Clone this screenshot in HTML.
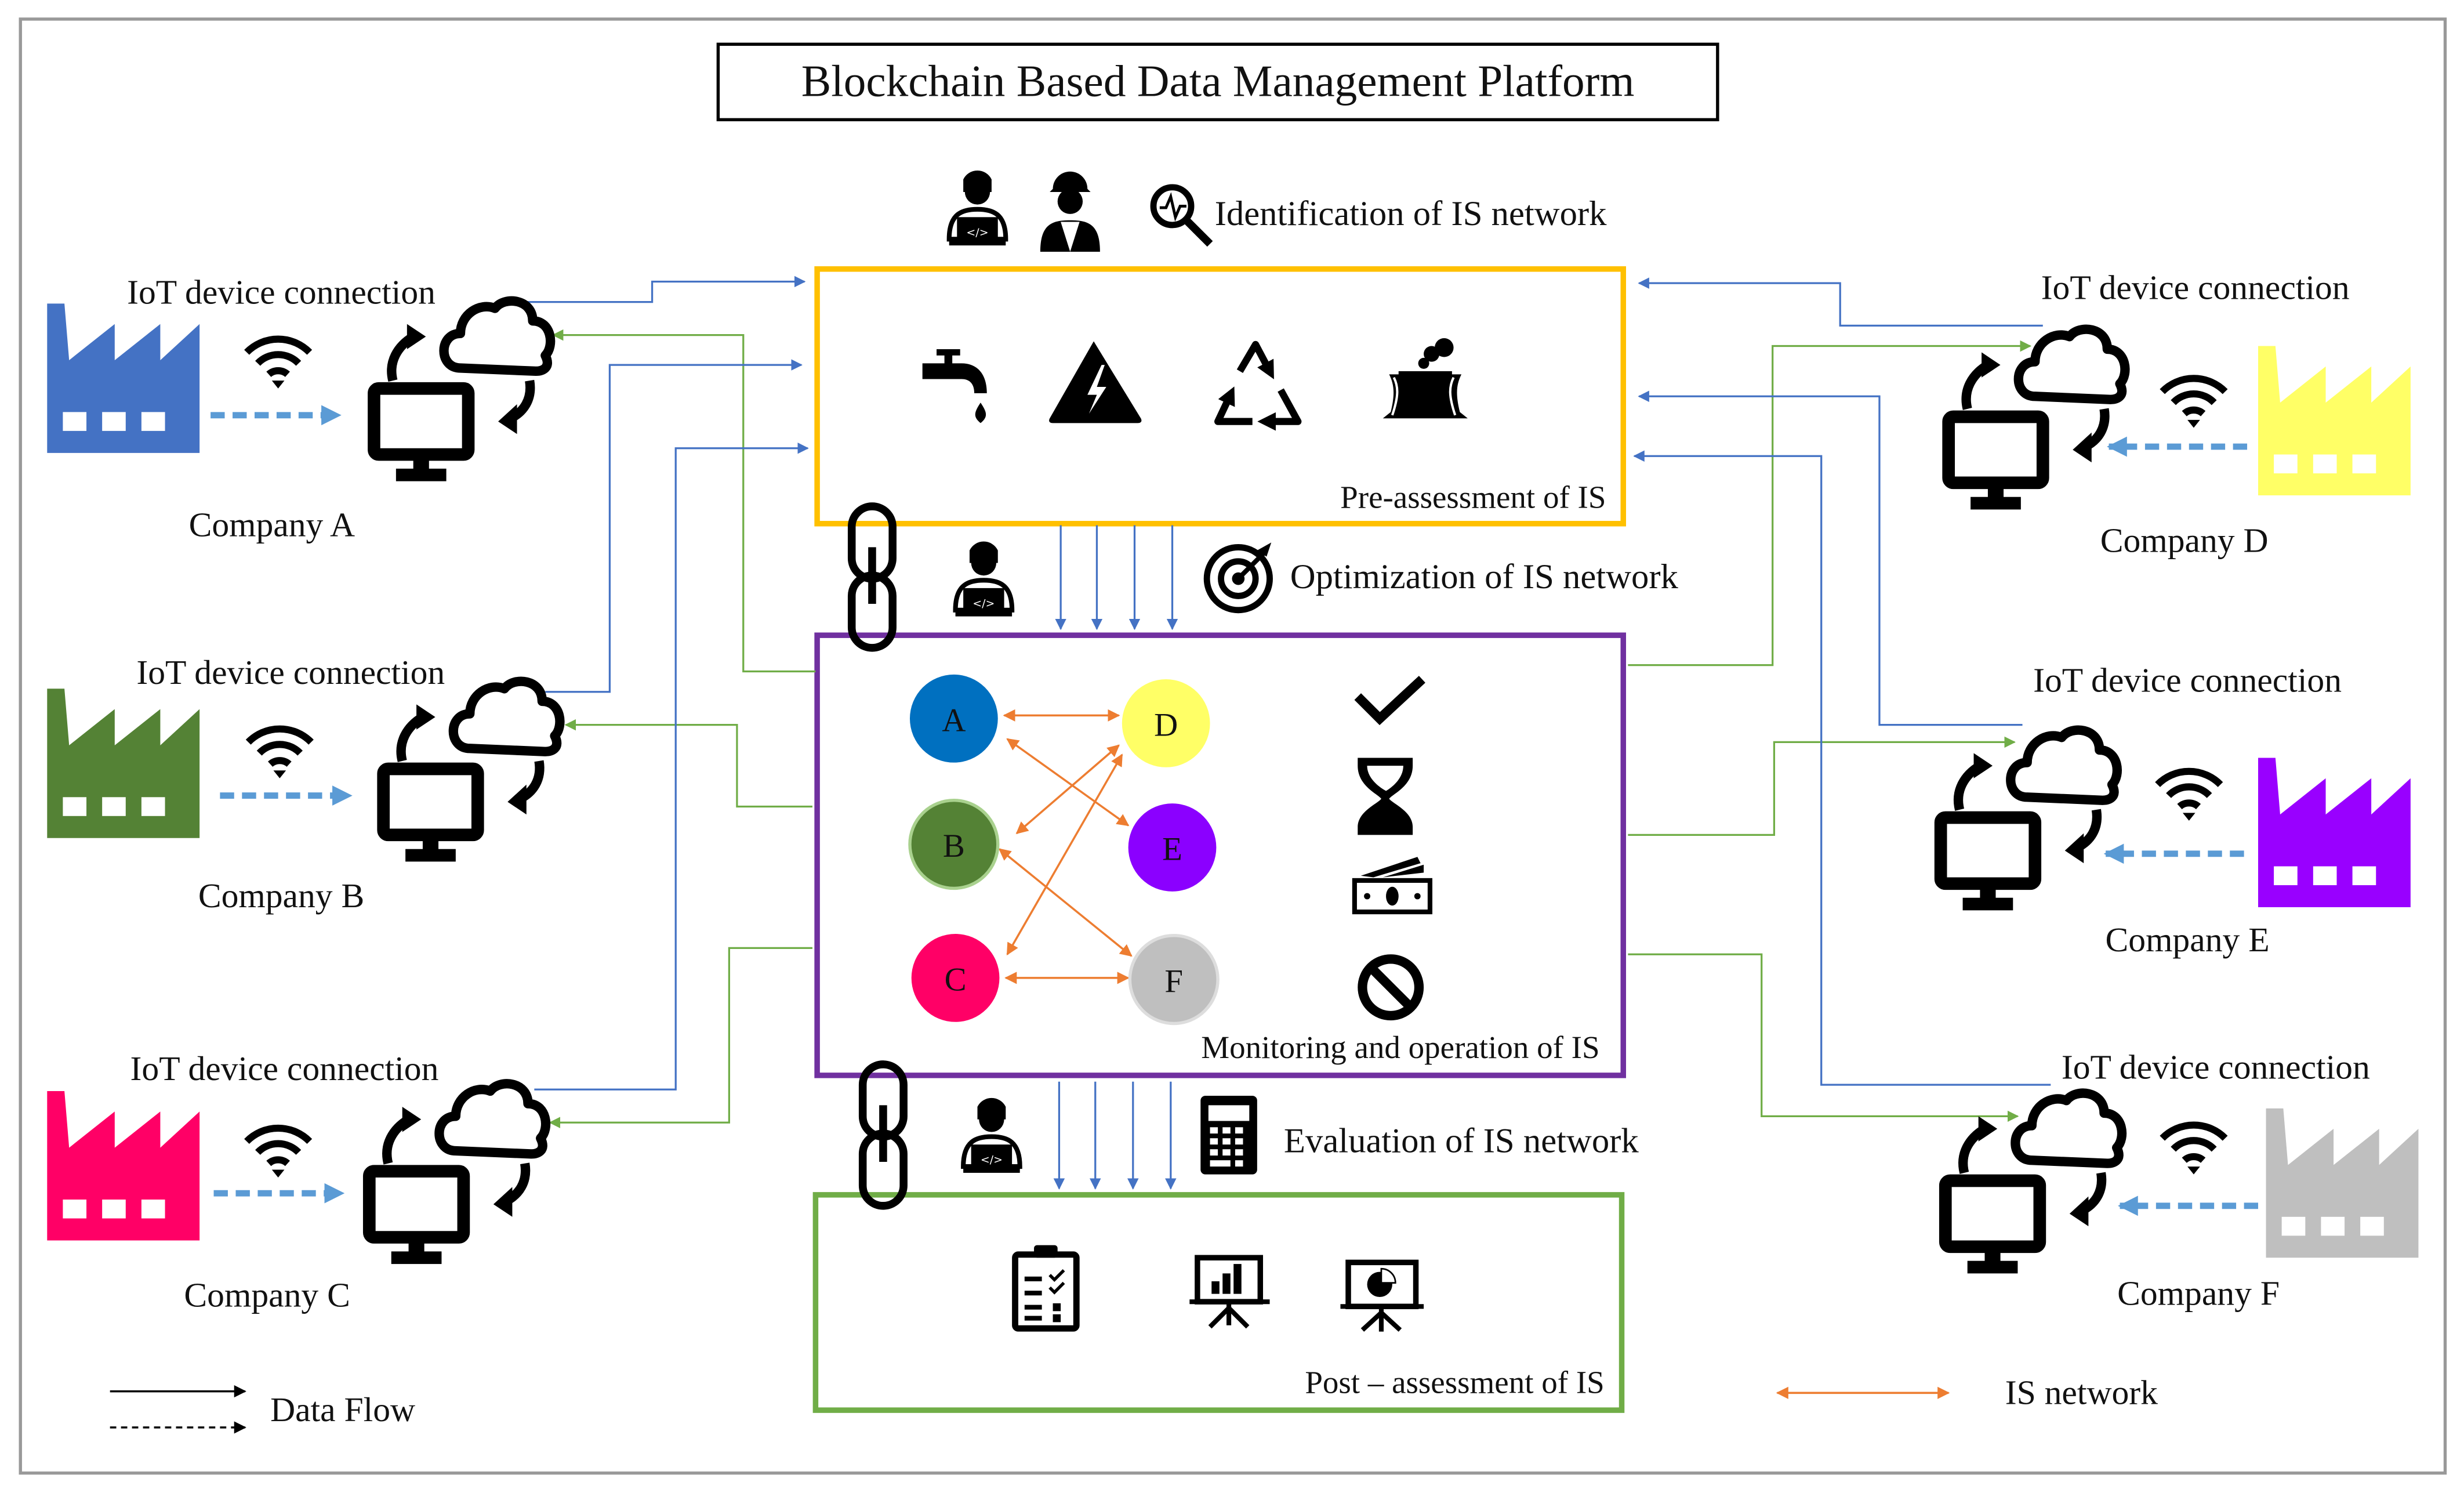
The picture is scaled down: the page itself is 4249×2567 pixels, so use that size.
<!DOCTYPE html>
<html><head><meta charset="utf-8"><style>html,body{margin:0;padding:0;background:#fff}svg{display:block}text{font-family:"Liberation Serif",serif;fill:#111}</style></head><body>
<svg width="4249" height="2567" viewBox="0 0 1568 947" xmlns="http://www.w3.org/2000/svg">
<defs>
<marker id="ab" viewBox="0 0 10 10" refX="9" refY="5" markerWidth="6" markerHeight="6" orient="auto-start-reverse"><path d="M0,0L10,5L0,10z" fill="#4472C4"/></marker>
<marker id="ag" viewBox="0 0 10 10" refX="9" refY="5" markerWidth="6" markerHeight="6" orient="auto-start-reverse"><path d="M0,0L10,5L0,10z" fill="#70AD47"/></marker>
<marker id="ao" viewBox="0 0 10 10" refX="9" refY="5" markerWidth="6" markerHeight="6" orient="auto-start-reverse"><path d="M0,0L10,5L0,10z" fill="#ED7D31"/></marker>
<marker id="ak" viewBox="0 0 10 10" refX="9" refY="5" markerWidth="6" markerHeight="6" orient="auto-start-reverse"><path d="M0,0L10,5L0,10z" fill="#000"/></marker>
<marker id="ar" viewBox="0 0 10 10" refX="5" refY="5" markerWidth="2.6" markerHeight="2.6" orient="auto"><path d="M0,0L10,5L0,10z" fill="#000"/></marker>
<marker id="ad" viewBox="0 0 10 10" refX="9" refY="5" markerWidth="3.2" markerHeight="3.2" orient="auto"><path d="M0,0L10,5L0,10z" fill="#5B9BD5"/></marker>
<g id="pc">
<path d="M58,44 C44,44 44,22 58,22 C58,10 70,2 80,6 C86,-2 104,0 104,14 C116,14 118,30 112,36 C116,44 110,46 106,46 Z" fill="#fff" stroke="#000" stroke-width="6" stroke-linejoin="round"/>
<rect x="3" y="57" width="60" height="42" rx="3" fill="#fff" stroke="#000" stroke-width="8"/>
<rect x="28" y="100" width="10" height="9" fill="#000"/><rect x="17" y="108" width="32" height="8" fill="#000"/>
<path d="M15,52 C12,40 18,30 28,24" fill="none" stroke="#000" stroke-width="6"/><path d="M24,16 L36,24 L24,32z" fill="#000"/>
<path d="M102,52 C104,64 98,72 90,76" fill="none" stroke="#000" stroke-width="6"/><path d="M94,67 L82,78 L94,86z" fill="#000"/>
</g>
<g id="fac"><path d="M0,95 L0,0 L11,0 L14,36 L43,13 L43,36 L72,13 L72,36 L97,13 L97,95 Z"/><rect x="10" y="69" width="15" height="12" fill="#fff"/><rect x="35" y="69" width="15" height="12" fill="#fff"/><rect x="60" y="69" width="15" height="12" fill="#fff"/></g>
<g id="wifi" fill="none" stroke="#000" stroke-width="4.5"><path d="M-20,-6 A28,28 0 0 1 20,-6"/><path d="M-13,1 A18,18 0 0 1 13,1"/><path d="M-6,8 A9,9 0 0 1 6,8"/><path d="M-4,12 L0,17 L4,12z" fill="#000" stroke="none"/></g>
<g id="dev"><circle cx="0" cy="-14" r="8" fill="#000"/><path d="M-9,-22 A10,10 0 0 1 9,-22 L9,-14 L-9,-14z" fill="#000"/><path d="M-18,16 C-18,0 -10,-3 0,-3 C10,-3 18,0 18,16z" fill="#fff" stroke="#000" stroke-width="3"/><rect x="-13" y="2" width="26" height="16" fill="#000"/><rect x="-18" y="17" width="36" height="3" fill="#000"/><text x="0" y="14" font-size="7" text-anchor="middle" style="fill:#fff;font-family:'DejaVu Sans'">&lt;/&gt;</text></g>
<g id="chain" fill="none" stroke="#000" stroke-width="5"><rect x="-13" y="0" width="26" height="46" rx="13"/><rect x="-13" y="44" width="26" height="46" rx="13"/><line x1="0" y1="26" x2="0" y2="62"/></g>
</defs>
<rect x="0" y="0" width="1568" height="947" fill="#fff"/>
<rect x="13" y="12" width="1543" height="925" fill="none" stroke="#999" stroke-width="2"/>
<rect x="457" y="28" width="636" height="48" fill="none" stroke="#000" stroke-width="2"/>
<text x="775" y="61" font-size="28.5" text-anchor="middle">Blockchain Based Data Management Platform</text>

<rect x="520" y="171" width="513" height="162" fill="none" stroke="#FFC000" stroke-width="3.5"/>
<rect x="520" y="404" width="513" height="280" fill="none" stroke="#7030A0" stroke-width="3.5"/>
<rect x="519" y="760" width="513" height="137" fill="none" stroke="#70AD47" stroke-width="3.5"/>
<text x="1022" y="323" font-size="20.3" text-anchor="end">Pre-assessment of IS</text>
<text x="1018" y="673" font-size="20.3" text-anchor="end">Monitoring and operation of IS</text>
<text x="1021" y="886" font-size="20.3" text-anchor="end">Post – assessment of IS</text>
<text x="773" y="143" font-size="22.4">Identification of IS network</text>
<text x="821" y="374" font-size="22.4">Optimization of IS network</text>
<text x="817" y="733" font-size="22.4">Evaluation of IS network</text>

<g stroke="#4472C4" stroke-width="1.2" marker-end="url(#ab)">
<line x1="675" y1="334" x2="675" y2="400"/><line x1="698" y1="334" x2="698" y2="400"/><line x1="722" y1="334" x2="722" y2="400"/><line x1="746" y1="334" x2="746" y2="400"/>
<line x1="674" y1="688" x2="674" y2="756"/><line x1="697" y1="688" x2="697" y2="756"/><line x1="721" y1="688" x2="721" y2="756"/><line x1="745" y1="688" x2="745" y2="756"/>
</g>

<g fill="none" stroke-width="1.2">
<polyline points="318,192 415,192 415,179 512,179" stroke="#4472C4" marker-end="url(#ab)"/>
<polyline points="519,427 473,427 473,213 352,213" stroke="#70AD47" marker-end="url(#ag)"/>
<polyline points="347,440 388,440 388,232 510,232" stroke="#4472C4" marker-end="url(#ab)"/>
<polyline points="517,513 469,513 469,461 360,461" stroke="#70AD47" marker-end="url(#ag)"/>
<polyline points="340,693 430,693 430,285 514,285" stroke="#4472C4" marker-end="url(#ab)"/>
<polyline points="517,603 464,603 464,714 350,714" stroke="#70AD47" marker-end="url(#ag)"/>
<polyline points="1300,207 1171,207 1171,180 1043,180" stroke="#4472C4" marker-end="url(#ab)"/>
<polyline points="1036,423 1128,423 1128,220 1292,220" stroke="#70AD47" marker-end="url(#ag)"/>
<polyline points="1287,461 1196,461 1196,252 1043,252" stroke="#4472C4" marker-end="url(#ab)"/>
<polyline points="1036,531 1129,531 1129,472 1282,472" stroke="#70AD47" marker-end="url(#ag)"/>
<polyline points="1305,690 1159,690 1159,290 1040,290" stroke="#4472C4" marker-end="url(#ab)"/>
<polyline points="1036,607 1121,607 1121,710 1284,710" stroke="#70AD47" marker-end="url(#ag)"/>
</g>

<g stroke="#ED7D31" stroke-width="1.3" marker-start="url(#ao)" marker-end="url(#ao)">
<line x1="639" y1="455" x2="712" y2="455"/>
<line x1="641" y1="470" x2="718" y2="525"/>
<line x1="712" y1="474" x2="647" y2="530"/>
<line x1="714" y1="480" x2="641" y2="607"/>
<line x1="636" y1="540" x2="720" y2="608"/>
<line x1="640" y1="622" x2="718" y2="622"/>
</g>
<circle cx="607" cy="457" r="28" fill="#0070C0"/>
<circle cx="742" cy="460" r="28" fill="#FFFF66"/>
<circle cx="607" cy="537" r="28" fill="#548235" stroke="#A9D18E" stroke-width="2"/>
<circle cx="746" cy="539" r="28" fill="#8B00FF"/>
<circle cx="608" cy="622" r="28" fill="#FF0066"/>
<circle cx="747" cy="623" r="28" fill="#BFBFBF" stroke="#DDD" stroke-width="2"/>
<g font-size="21" text-anchor="middle"><text x="607" y="465">A</text><text x="742" y="468">D</text><text x="607" y="545">B</text><text x="746" y="547">E</text><text x="608" y="630">C</text><text x="747" y="631">F</text></g>

<path d="M864,443 L878,457 L905,432" fill="none" stroke="#000" stroke-width="6"/>
<path d="M864,482 L899,482 L899,487 C899,500 886,505 884,508 C886,511 899,516 899,526 L899,531 L864,531 L864,526 C864,516 877,511 879,508 C877,505 864,500 864,487Z" fill="#000"/>
<path d="M870,487 L893,487 C893,497 882,503 882,503 C882,503 870,497 870,487Z" fill="#fff"/>
<path d="M869,524 C872,516 891,516 894,524Z" fill="#000"/>
<rect x="862" y="560" width="48" height="20" fill="#fff" stroke="#000" stroke-width="3"/><ellipse cx="886" cy="570" rx="4" ry="6"/><circle cx="870" cy="570" r="2"/><circle cx="902" cy="570" r="2"/>
<path d="M866,557 L902,545 L904,549 L874,558Z M880,558 L906,550 L906,555Z"/>
<circle cx="885" cy="628" r="18" fill="none" stroke="#000" stroke-width="6"/><line x1="873" y1="616" x2="897" y2="640" stroke="#000" stroke-width="6"/>

<g fill="#000">
<rect x="601" y="223" width="5" height="10"/><rect x="596" y="222" width="15" height="4"/>
<path d="M587,231 L612,231 C622,231 628,238 628,250 L620,250 C620,243 616,241 612,241 L587,241Z"/>
<path d="M624,256 C628,262 629,265 624,269 C619,265 620,262 624,256Z"/>
<path d="M696,217 L726,266 C727,268 726,269 724,269 L670,269 C668,269 667,268 668,266Z"/>
<path d="M701,232 L692,251 L698,251 L693,263 L704,246 L698,246 L703,232Z" fill="#fff"/>
<path d="M880,266 L885,262 C888,250 887,244 884,238 L930,238 C927,244 926,250 929,262 L934,266Z"/>
<rect x="890" y="236" width="34" height="3"/>
<circle cx="911" cy="225" r="5"/><circle cx="919" cy="221" r="6"/><circle cx="906" cy="231" r="3.5"/>
</g>
<path d="M886,264 C890,252 890,246 887,240 M926,264 C922,252 922,246 925,240" fill="none" stroke="#fff" stroke-width="1.5"/>
<g fill="none" stroke="#000" stroke-width="4.5" stroke-linejoin="round">
<polyline points="789,236 799,219 808,236" marker-end="url(#ar)"/>
<polyline points="797,268 775,268 783,251" marker-end="url(#ar)"/>
<polyline points="815,248 826,268 806,268" marker-end="url(#ar)"/>
</g>

<rect x="646" y="798" width="39" height="47" rx="2" fill="#fff" stroke="#000" stroke-width="4"/><rect x="658" y="792" width="15" height="8" rx="2"/>
<g fill="#000"><rect x="652" y="812" width="11" height="3"/><rect x="652" y="821" width="11" height="3"/><rect x="652" y="830" width="11" height="3"/><rect x="652" y="837" width="11" height="3"/><rect x="670" y="829" width="5" height="5"/><rect x="670" y="836" width="5" height="5"/></g>
<path d="M668,811 l3,3 l6,-6 M668,819 l3,3 l6,-6" fill="none" stroke="#000" stroke-width="2"/>
<rect x="762" y="800" width="40" height="28" fill="#fff" stroke="#000" stroke-width="3.5"/><line x1="757" y1="828" x2="808" y2="828" stroke="#000" stroke-width="3"/>
<g fill="#000"><rect x="771" y="815" width="5" height="8"/><rect x="778" y="810" width="5" height="13"/><rect x="785" y="804" width="5" height="19"/></g>
<path d="M782,829 L782,843 M782,832 L770,844 M782,832 L794,844" stroke="#000" stroke-width="3"/>
<rect x="858" y="803" width="43" height="28" fill="#fff" stroke="#000" stroke-width="3.5"/><line x1="853" y1="831" x2="906" y2="831" stroke="#000" stroke-width="3"/>
<circle cx="878" cy="817" r="8"/><path d="M879,816 L879,807 A9,9 0 0 1 888,816Z" fill="#fff" stroke="#000" stroke-width="1"/>
<path d="M879,832 L879,847 M879,835 L867,846 M879,835 L891,846" stroke="#000" stroke-width="3"/>

<use href="#dev" x="622" y="136"/><use href="#dev" x="626" y="372"/><use href="#dev" x="631" y="726"/>
<g><circle cx="681" cy="128" r="8"/><path d="M670,120 A11,11 0 0 1 692,120 L694,122 L668,122Z"/><path d="M662,160 C662,142 670,140 681,140 C692,140 700,142 700,160Z"/><path d="M675,141 L681,160 L687,141Z" fill="#fff"/></g>
<g fill="none" stroke="#000" stroke-width="4"><circle cx="746" cy="131" r="12"/><line x1="755" y1="140" x2="770" y2="155" stroke-width="5"/><path d="M738,132 L742,132 L745,125 L748,138 L751,131 L755,131" stroke-width="1.8"/></g>
<g><circle cx="788" cy="368" r="20" fill="none" stroke="#000" stroke-width="4"/><circle cx="788" cy="368" r="11" fill="none" stroke="#000" stroke-width="4"/><circle cx="788" cy="368" r="4"/><line x1="788" y1="368" x2="806" y2="350" stroke="#000" stroke-width="3"/><path d="M800,350 L809,345 L806,354Z"/></g>
<rect x="764" y="697" width="36" height="50" rx="3"/><rect x="769" y="703" width="26" height="10" fill="#fff"/>
<g fill="#fff"><rect x="770" y="717" width="5" height="4"/><rect x="778" y="717" width="5" height="4"/><rect x="786" y="717" width="5" height="4"/><rect x="770" y="724" width="5" height="4"/><rect x="778" y="724" width="5" height="4"/><rect x="786" y="724" width="5" height="4"/><rect x="770" y="731" width="5" height="4"/><rect x="778" y="731" width="5" height="4"/><rect x="786" y="731" width="5" height="4"/><rect x="770" y="738" width="13" height="4"/><rect x="786" y="738" width="5" height="4"/></g>
<use href="#chain" x="555" y="322"/><use href="#chain" x="562" y="677"/>

<g fill="#4472C4"><use href="#fac" x="30" y="193"/></g>
<g fill="#548235"><use href="#fac" x="30" y="438"/></g>
<g fill="#FF0066"><use href="#fac" x="30" y="694"/></g>
<g fill="#FFFF66"><use href="#fac" x="1437" y="220"/></g>
<g fill="#9900FF"><use href="#fac" x="1437" y="482"/></g>
<g fill="#BFBFBF"><use href="#fac" x="1442" y="705"/></g>
<use href="#pc" x="235" y="190"/><use href="#pc" x="241" y="432"/><use href="#pc" x="232" y="688"/>
<use href="#pc" x="1237" y="208"/><use href="#pc" x="1232" y="463"/><use href="#pc" x="1235" y="694"/>
<use href="#wifi" x="177" y="230"/><use href="#wifi" x="178" y="478"/><use href="#wifi" x="177" y="732"/>
<use href="#wifi" x="1396" y="255"/><use href="#wifi" x="1393" y="505"/><use href="#wifi" x="1396" y="730"/>
<g stroke="#5B9BD5" stroke-width="4" stroke-dasharray="9,5" marker-end="url(#ad)">
<line x1="134" y1="264" x2="216" y2="264"/><line x1="140" y1="506" x2="223" y2="506"/><line x1="136" y1="759" x2="218" y2="759"/>
<line x1="1430" y1="284" x2="1342" y2="284"/><line x1="1428" y1="543" x2="1340" y2="543"/><line x1="1437" y1="767" x2="1349" y2="767"/>
</g>
<g font-size="22" text-anchor="middle">
<text x="179" y="193">IoT device connection</text><text x="185" y="435">IoT device connection</text><text x="181" y="687">IoT device connection</text>
<text x="1397" y="190">IoT device connection</text><text x="1392" y="440">IoT device connection</text><text x="1410" y="686">IoT device connection</text>
<text x="173" y="341">Company A</text><text x="179" y="577">Company B</text><text x="170" y="831">Company C</text>
<text x="1390" y="351">Company D</text><text x="1392" y="605">Company E</text><text x="1399" y="830">Company F</text>
</g>

<line x1="70" y1="885" x2="156" y2="885" stroke="#000" stroke-width="1.3" marker-end="url(#ak)"/>
<line x1="70" y1="908" x2="156" y2="908" stroke="#000" stroke-width="1.3" stroke-dasharray="4,3" marker-end="url(#ak)"/>
<text x="172" y="904" font-size="22">Data Flow</text>
<line x1="1131" y1="886" x2="1240" y2="886" stroke="#ED7D31" stroke-width="1.3" marker-start="url(#ao)" marker-end="url(#ao)"/>
<text x="1276" y="893" font-size="22">IS network</text>
</svg>
</body></html>
